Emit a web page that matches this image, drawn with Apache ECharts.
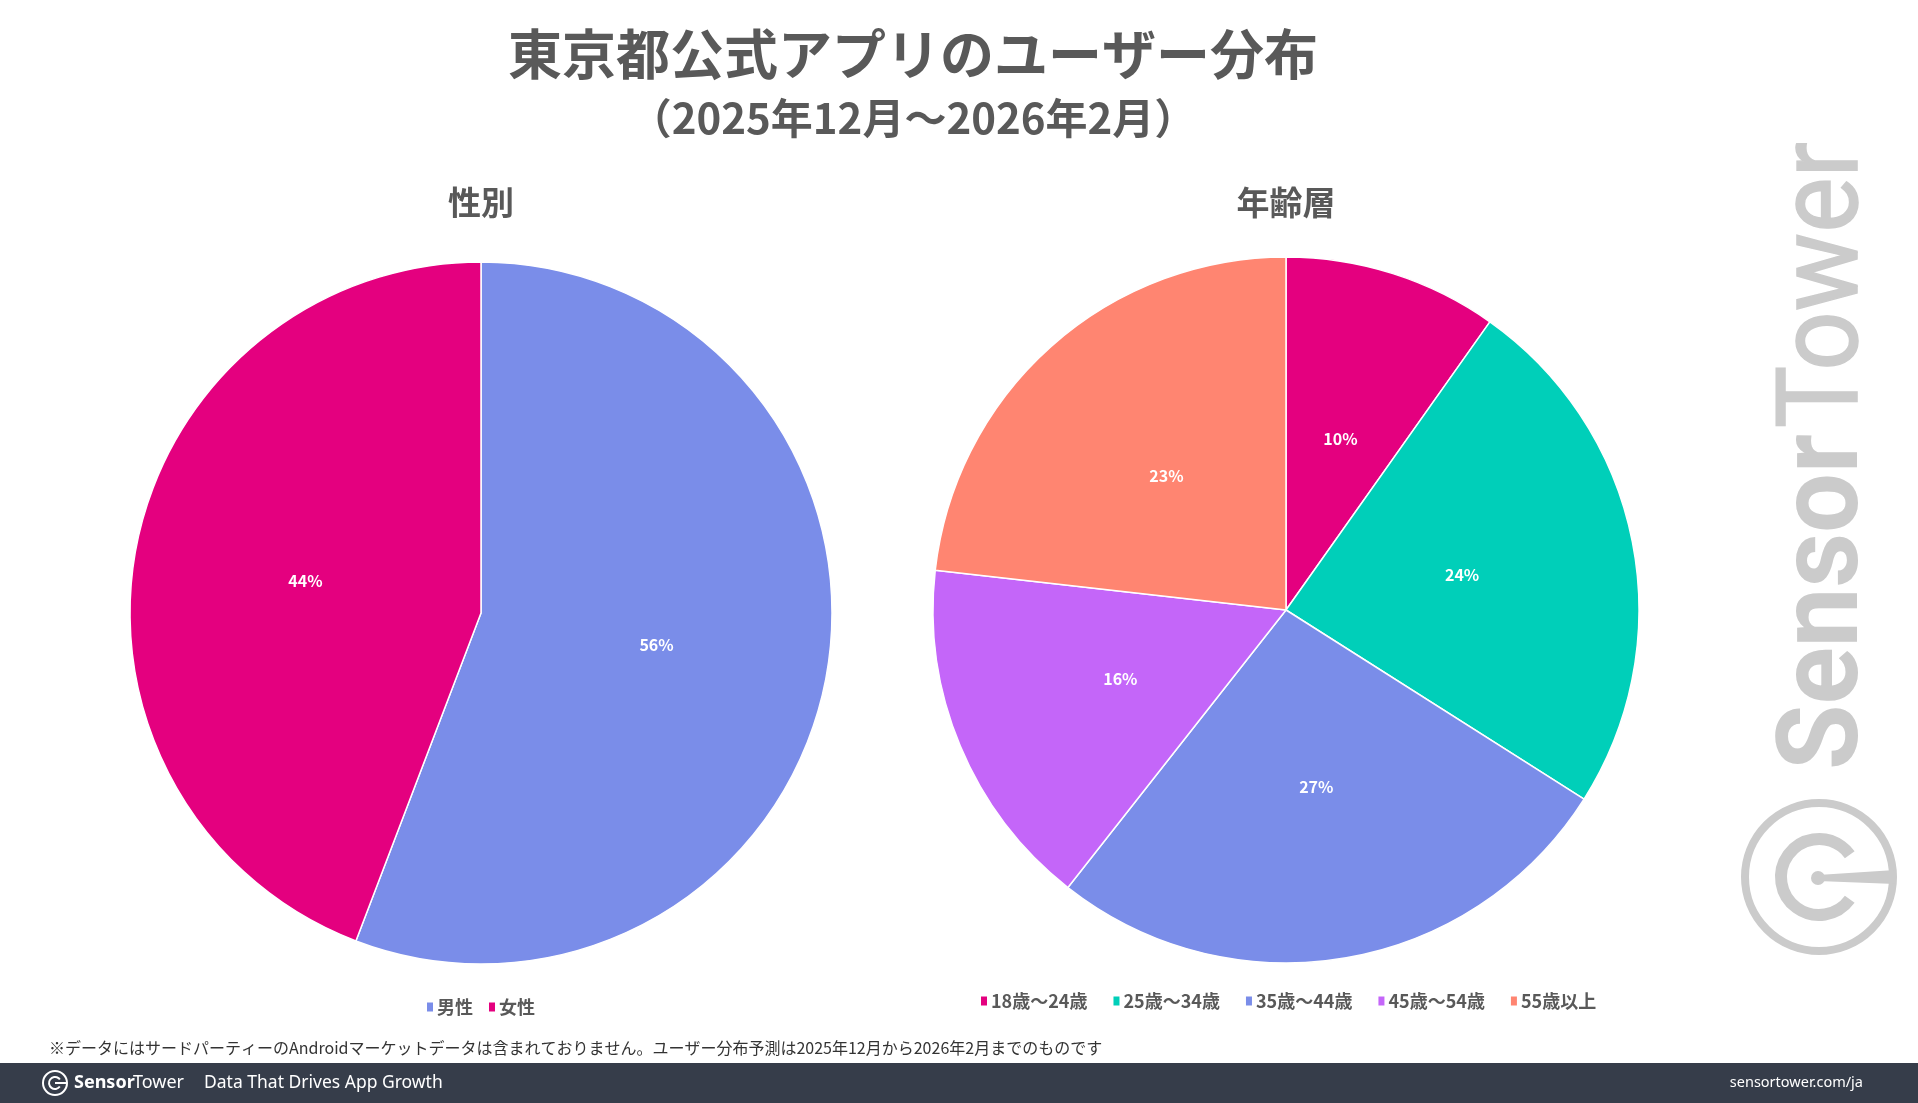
<!DOCTYPE html>
<html>
<head>
<meta charset="utf-8">
<title>東京都公式アプリのユーザー分布</title>
<script src="https://cdn.jsdelivr.net/npm/echarts@6/dist/echarts.min.js"></script>
<style>
  html, body { margin: 0; padding: 0; background: #fff; }
  #chart { width: 1918px; height: 1103px; }
</style>
</head>
<body>
<div id="chart"></div>
<script>
// 性別
const genderNames = ['男性', '女性'];
const genderValues = [55.8, 44.2];

// 年齢層
const ageNames = ['18歳～24歳', '25歳～34歳', '35歳～44歳', '45歳～54歳', '55歳以上'];
const ageValues = [9.8, 24.2, 26.6, 16.2, 23.2];

const genderColors = ['#7a8de9', '#e4007f'];
const ageColors = ['#e4007f', '#00cfb9', '#7a8de9', '#c466f9', '#ff8571'];

const jp = '"Noto Sans CJK JP", "Noto Sans", sans-serif';
const gray = '#595959';
const wmColor = '#cbcbcb';

// 透かし文字の長さを合わせるための倍率
function fitScale(text, font, target) {
  const ctx = document.createElement('canvas').getContext('2d');
  ctx.font = font;
  return target / ctx.measureText(text).width;
}

const chart = echarts.init(document.getElementById('chart'));

const pieBase = {
  type: 'pie',
  startAngle: 90,
  clockwise: true,
  silent: true,
  itemStyle: { borderColor: '#fff', borderWidth: 1.5 },
  label: {
    show: true,
    position: 'inside',
    color: '#fff',
    fontFamily: jp,
    fontWeight: 'bold',
    fontSize: 16,
    formatter: p => Math.round(p.percent) + '%'
  },
  labelLine: { show: false },
  emphasis: { disabled: true }
};

const wmSensorFont = 'bold 113px Roboto';
const wmTowerFont = '113px Roboto';

const option = {
  backgroundColor: '#fff',
  animation: false,
  title: [
    {
      text: '東京都公式アプリのユーザー分布',
      left: 913, top: 54, padding: 0,
      textAlign: 'center', textVerticalAlign: 'middle',
      textStyle: { fontFamily: jp, fontSize: 54, fontWeight: 'bold', color: gray }
    },
    {
      text: '（2025年12月～2026年2月）',
      left: 913, top: 118, padding: 0,
      textAlign: 'center', textVerticalAlign: 'middle',
      textStyle: { fontFamily: jp, fontSize: 42, fontWeight: 'bold', color: gray }
    },
    {
      text: '性別',
      left: 481, top: 202, padding: 0,
      textAlign: 'center', textVerticalAlign: 'middle',
      textStyle: { fontFamily: jp, fontSize: 33, fontWeight: 'bold', color: gray }
    },
    {
      text: '年齢層',
      left: 1286, top: 202, padding: 0,
      textAlign: 'center', textVerticalAlign: 'middle',
      textStyle: { fontFamily: jp, fontSize: 33, fontWeight: 'bold', color: gray }
    }
  ],
  legend: [
    {
      data: genderNames,
      left: 420, top: 993,
      itemWidth: 8, itemHeight: 11, itemGap: 14,
      icon: 'rect',
      textStyle: { fontFamily: jp, fontSize: 18, fontWeight: 'bold', color: gray, padding: [0, 0, 0, -2] }
    },
    {
      data: ageNames,
      left: 974, top: 987,
      itemWidth: 8, itemHeight: 11, itemGap: 24,
      icon: 'rect',
      textStyle: { fontFamily: jp, fontSize: 18, fontWeight: 'bold', color: gray, padding: [0, 0, 0, -2] }
    }
  ],
  series: [
    Object.assign({}, pieBase, {
      name: '性別',
      center: [481, 613],
      radius: 351,
      data: genderNames.map((n, i) => ({
        name: n, value: genderValues[i], itemStyle: { color: genderColors[i] }
      }))
    }),
    Object.assign({}, pieBase, {
      name: '年齢層',
      center: [1286, 610],
      radius: 353,
      data: ageNames.map((n, i) => ({
        name: n, value: ageValues[i], itemStyle: { color: ageColors[i] }
      }))
    })
  ],
  graphic: [
    // 注記
    {
      type: 'text', x: 49, y: 1048, silent: true,
      style: {
        text: '※データにはサードパーティーのAndroidマーケットデータは含まれておりません。ユーザー分布予測は2025年12月から2026年2月までのものです',
        font: '16px ' + jp, fill: '#333', verticalAlign: 'middle'
      }
    },
    // フッター
    { type: 'rect', shape: { x: 0, y: 1063, width: 1918, height: 40 }, style: { fill: '#363d4a' }, silent: true },
    { type: 'circle', shape: { cx: 55, cy: 1083, r: 12 }, style: { fill: 'none', stroke: '#fff', lineWidth: 2 }, silent: true },
    { type: 'arc', shape: { cx: 55, cy: 1083, r: 6, startAngle: Math.PI / 5, endAngle: Math.PI * 9 / 5, clockwise: true }, style: { fill: 'none', stroke: '#fff', lineWidth: 2 }, silent: true },
    { type: 'line', shape: { x1: 55, y1: 1083, x2: 66, y2: 1083 }, style: { stroke: '#fff', lineWidth: 2 }, silent: true },
    {
      type: 'text', x: 74, y: 1083, silent: true,
      style: { text: 'Sensor', font: 'bold 18px "Noto Sans", sans-serif', fill: '#fff', verticalAlign: 'middle' }
    },
    {
      type: 'text', x: 133, y: 1083, silent: true,
      style: { text: 'Tower', font: '18px "Noto Sans", sans-serif', fill: '#fff', verticalAlign: 'middle' }
    },
    {
      type: 'text', x: 204, y: 1083, silent: true,
      style: { text: 'Data That Drives App Growth', font: '17.5px "Noto Sans", sans-serif', fill: '#fff', verticalAlign: 'middle' }
    },
    {
      type: 'text', x: 1863, y: 1083, silent: true,
      style: { text: 'sensortower.com/ja', font: '14.5px "Noto Sans", sans-serif', fill: '#fff', align: 'right', verticalAlign: 'middle' }
    },
    // 透かし
    {
      type: 'text', x: 1829, y: 770, rotation: Math.PI / 2, silent: true,
      scaleX: fitScale('Sensor', wmSensorFont, 336),
      style: { text: 'Sensor', font: wmSensorFont, fill: wmColor, align: 'left', verticalAlign: 'middle' }
    },
    {
      type: 'text', x: 1829, y: 428, rotation: Math.PI / 2, silent: true,
      scaleX: fitScale('Tower', wmTowerFont, 286),
      style: { text: 'Tower', font: wmTowerFont, fill: wmColor, stroke: wmColor, lineWidth: 1.5, align: 'left', verticalAlign: 'middle' }
    },
    { type: 'circle', shape: { cx: 1819, cy: 877, r: 74 }, style: { fill: 'none', stroke: wmColor, lineWidth: 8 }, silent: true },
    { type: 'arc', shape: { cx: 1819, cy: 877, r: 38, startAngle: Math.PI * 0.2, endAngle: Math.PI * 1.8, clockwise: true }, style: { fill: 'none', stroke: wmColor, lineWidth: 12 }, silent: true },
    { type: 'polygon', shape: { points: [[1818, 875], [1895, 870], [1895, 884], [1818, 881]] }, style: { fill: wmColor }, silent: true },
    { type: 'circle', shape: { cx: 1818, cy: 878, r: 7 }, style: { fill: wmColor }, silent: true }
  ]
};

chart.setOption(option);
</script>
</body>
</html>
